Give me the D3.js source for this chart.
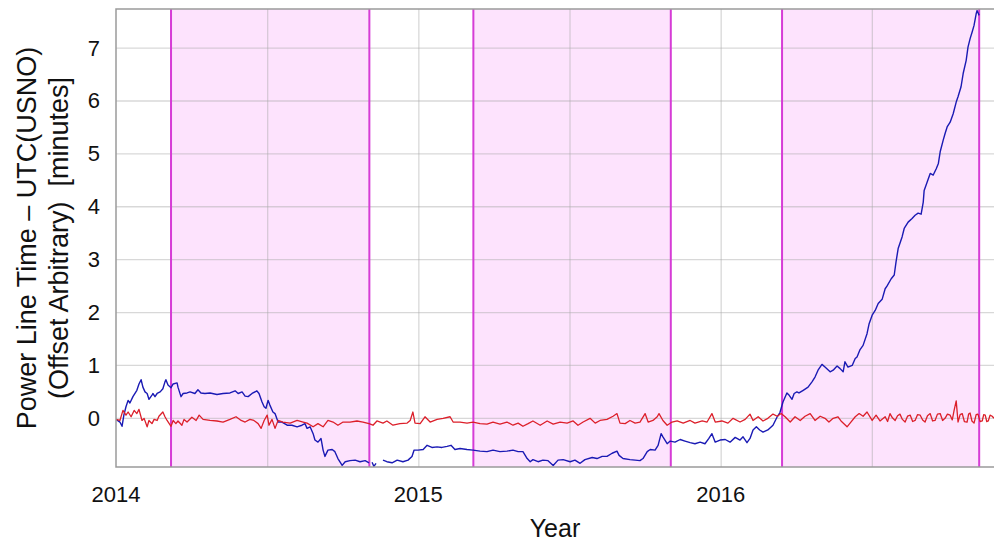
<!DOCTYPE html>
<html>
<head>
<meta charset="utf-8">
<script src="https://cdn.jsdelivr.net/npm/d3@7"></script>
<style>
  body { margin: 0; background: #fff; }
  text { font-family: "Liberation Sans", Arial, sans-serif; fill: #111; }
</style>
</head>
<body>
<div id="chart"></div>
<script>
// [decimal year, minutes]  -- null marks a gap in the record
const blueSeries = [
  [2014.000,-0.03],[2014.013,-0.08],[2014.020,-0.16],[2014.026,0.05],[2014.033,0.21],[2014.040,0.33],
  [2014.046,0.28],[2014.056,0.40],[2014.069,0.52],[2014.076,0.64],[2014.083,0.72],[2014.089,0.58],
  [2014.096,0.49],[2014.103,0.46],[2014.109,0.35],[2014.119,0.43],[2014.122,0.46],[2014.129,0.40],
  [2014.136,0.46],[2014.146,0.49],[2014.155,0.55],[2014.162,0.68],[2014.165,0.72],[2014.172,0.62],
  [2014.182,0.57],[2014.189,0.64],[2014.202,0.66],[2014.205,0.58],[2014.215,0.40],[2014.222,0.46],
  [2014.235,0.47],[2014.245,0.49],[2014.261,0.46],[2014.271,0.53],[2014.281,0.47],[2014.294,0.46],
  [2014.311,0.47],[2014.334,0.44],[2014.354,0.46],[2014.377,0.47],[2014.394,0.51],[2014.404,0.46],
  [2014.417,0.49],[2014.427,0.41],[2014.437,0.40],[2014.450,0.46],[2014.466,0.51],[2014.473,0.46],
  [2014.483,0.30],[2014.490,0.21],[2014.496,0.18],[2014.503,0.33],[2014.509,0.24],[2014.519,0.11],
  [2014.526,0.08],[2014.536,-0.08],[2014.549,-0.08],[2014.566,-0.14],[2014.582,-0.14],[2014.599,-0.17],
  [2014.615,-0.14],[2014.625,-0.11],[2014.632,-0.20],[2014.642,-0.17],[2014.652,-0.30],[2014.658,-0.42],
  [2014.668,-0.46],[2014.678,-0.39],[2014.685,-0.61],[2014.691,-0.73],[2014.701,-0.61],[2014.715,-0.60],
  [2014.724,-0.64],[2014.734,-0.77],[2014.748,-0.90],[2014.758,-0.83],[2014.774,-0.81],[2014.791,-0.80],
  [2014.807,-0.83],[2014.824,-0.81],[2014.837,-0.85],[2014.842,null],[2014.847,-0.84],[2014.853,-0.92],
  [2014.860,-0.86],[2014.870,null],[2014.883,-0.80],[2014.896,-0.83],[2014.913,-0.85],[2014.930,-0.80],
  [2014.949,-0.83],[2014.966,-0.80],[2014.979,-0.73],[2014.986,-0.61],[2014.999,-0.61],[2015.016,-0.60],
  [2015.029,-0.52],[2015.045,-0.56],[2015.062,-0.55],[2015.078,-0.56],[2015.095,-0.54],[2015.108,-0.52],
  [2015.121,-0.60],[2015.138,-0.58],[2015.161,-0.60],[2015.181,-0.61],[2015.204,-0.63],[2015.227,-0.64],
  [2015.247,-0.61],[2015.270,-0.64],[2015.293,-0.63],[2015.313,-0.61],[2015.330,-0.64],[2015.346,-0.64],
  [2015.360,-0.77],[2015.370,-0.83],[2015.379,-0.79],[2015.396,-0.83],[2015.412,-0.80],[2015.429,-0.81],
  [2015.446,-0.90],[2015.462,-0.80],[2015.479,-0.79],[2015.502,-0.83],[2015.518,-0.80],[2015.535,-0.86],
  [2015.551,-0.79],[2015.575,-0.75],[2015.591,-0.77],[2015.608,-0.73],[2015.624,-0.73],[2015.641,-0.67],
  [2015.657,-0.63],[2015.664,-0.71],[2015.677,-0.77],[2015.700,-0.79],[2015.717,-0.80],[2015.733,-0.81],
  [2015.743,-0.77],[2015.757,-0.64],[2015.767,-0.60],[2015.783,-0.61],[2015.793,-0.52],[2015.803,-0.30],
  [2015.809,-0.36],[2015.823,-0.49],[2015.833,-0.44],[2015.849,-0.46],[2015.866,-0.41],[2015.882,-0.44],
  [2015.899,-0.47],[2015.915,-0.49],[2015.932,-0.46],[2015.948,-0.49],[2015.961,-0.39],[2015.971,-0.30],
  [2015.982,-0.46],[2015.998,-0.42],[2016.015,-0.41],[2016.031,-0.46],[2016.048,-0.37],[2016.064,-0.42],
  [2016.074,-0.36],[2016.087,-0.47],[2016.097,-0.39],[2016.107,-0.23],[2016.118,-0.17],[2016.129,-0.23],
  [2016.140,-0.27],[2016.156,-0.23],[2016.173,-0.14],[2016.187,0.02],[2016.196,0.10],[2016.206,0.30],
  [2016.219,0.47],[2016.226,0.43],[2016.236,0.35],[2016.243,0.46],[2016.252,0.49],[2016.259,0.47],
  [2016.273,0.52],[2016.289,0.58],[2016.302,0.68],[2016.312,0.77],[2016.322,0.90],[2016.335,1.01],
  [2016.345,0.96],[2016.362,0.87],[2016.372,0.90],[2016.385,0.98],[2016.395,0.93],[2016.405,0.87],
  [2016.411,1.06],[2016.421,0.96],[2016.435,0.99],[2016.445,1.12],[2016.451,1.15],[2016.461,1.29],
  [2016.471,1.37],[2016.484,1.59],[2016.491,1.78],[2016.501,1.94],[2016.511,2.03],[2016.521,2.16],
  [2016.534,2.24],[2016.544,2.44],[2016.550,2.49],[2016.564,2.63],[2016.574,2.70],[2016.580,2.95],
  [2016.587,3.20],[2016.600,3.42],[2016.607,3.58],[2016.620,3.70],[2016.633,3.77],[2016.643,3.83],
  [2016.653,3.87],[2016.663,3.85],[2016.670,4.08],[2016.673,4.30],[2016.683,4.46],[2016.693,4.62],
  [2016.703,4.59],[2016.713,4.71],[2016.720,4.81],[2016.726,5.03],[2016.736,5.25],[2016.742,5.37],
  [2016.749,5.50],[2016.759,5.59],[2016.769,5.75],[2016.779,5.97],[2016.785,6.07],[2016.795,6.26],
  [2016.802,6.51],[2016.812,6.76],[2016.818,7.01],[2016.825,7.17],[2016.832,7.30],[2016.838,7.42],
  [2016.845,7.64],[2016.848,7.70],[2016.855,7.61]
];

const redSeries = [
  [2014.000,-0.03],[2014.013,-0.05],[2014.023,0.14],[2014.033,0.05],[2014.040,0.11],[2014.050,0.02],
  [2014.060,0.14],[2014.069,0.08],[2014.076,0.16],[2014.086,-0.05],[2014.093,-0.01],[2014.103,-0.17],
  [2014.109,-0.05],[2014.119,-0.11],[2014.126,-0.03],[2014.136,-0.05],[2014.142,0.03],[2014.155,0.11],
  [2014.162,0.02],[2014.169,-0.05],[2014.182,-0.16],[2014.189,-0.05],[2014.198,-0.11],[2014.205,-0.06],
  [2014.218,-0.14],[2014.225,-0.03],[2014.235,-0.08],[2014.251,0.01],[2014.265,-0.05],[2014.275,0.05],
  [2014.288,-0.03],[2014.311,-0.05],[2014.334,-0.06],[2014.354,-0.08],[2014.377,-0.03],[2014.397,0.02],
  [2014.414,-0.05],[2014.427,-0.08],[2014.443,-0.03],[2014.456,-0.05],[2014.470,-0.11],[2014.480,-0.20],
  [2014.490,-0.05],[2014.500,0.05],[2014.506,-0.14],[2014.516,-0.03],[2014.526,-0.20],[2014.536,-0.05],
  [2014.552,-0.08],[2014.576,-0.10],[2014.599,-0.05],[2014.619,-0.08],[2014.632,-0.10],[2014.652,-0.17],
  [2014.668,-0.11],[2014.685,-0.17],[2014.701,-0.05],[2014.718,-0.08],[2014.734,-0.14],[2014.751,-0.08],
  [2014.774,-0.08],[2014.797,-0.06],[2014.817,-0.08],[2014.837,-0.11],[2014.850,-0.14],[2014.863,-0.06],
  [2014.883,-0.10],[2014.896,-0.06],[2014.916,-0.14],[2014.939,-0.11],[2014.963,-0.10],[2014.973,-0.05],
  [2014.982,0.11],[2014.989,-0.10],[2015.006,-0.11],[2015.022,0.02],[2015.039,-0.08],[2015.062,-0.03],
  [2015.082,-0.01],[2015.105,0.02],[2015.115,-0.08],[2015.138,-0.08],[2015.161,-0.10],[2015.181,-0.08],
  [2015.204,-0.11],[2015.227,-0.12],[2015.247,-0.08],[2015.270,-0.12],[2015.293,-0.08],[2015.313,-0.14],
  [2015.330,-0.10],[2015.346,-0.16],[2015.363,-0.11],[2015.379,-0.06],[2015.403,-0.14],[2015.426,-0.06],
  [2015.446,-0.12],[2015.469,-0.08],[2015.492,-0.10],[2015.512,-0.06],[2015.528,-0.14],[2015.545,-0.08],
  [2015.568,-0.01],[2015.585,-0.10],[2015.601,-0.05],[2015.624,-0.03],[2015.644,0.03],[2015.657,0.08],
  [2015.667,-0.10],[2015.684,-0.11],[2015.700,-0.05],[2015.717,-0.10],[2015.733,-0.08],[2015.750,0.08],
  [2015.760,-0.08],[2015.776,-0.05],[2015.790,0.02],[2015.796,0.08],[2015.809,-0.05],[2015.823,-0.14],
  [2015.839,-0.08],[2015.856,-0.06],[2015.876,-0.10],[2015.899,-0.05],[2015.915,-0.10],[2015.939,-0.06],
  [2015.955,-0.08],[2015.971,0.08],[2015.982,-0.08],[2016.004,-0.06],[2016.024,-0.10],[2016.041,-0.01],
  [2016.064,-0.08],[2016.081,-0.03],[2016.097,0.07],[2016.107,-0.05],[2016.124,0.02],[2016.140,-0.06],
  [2016.156,-0.01],[2016.173,0.07],[2016.187,0.03],[2016.200,0.08],[2016.213,0.02],[2016.230,-0.08],
  [2016.246,0.02],[2016.263,-0.05],[2016.279,0.03],[2016.296,0.08],[2016.312,-0.05],[2016.329,0.03],
  [2016.345,-0.01],[2016.358,-0.08],[2016.372,-0.01],[2016.388,0.02],[2016.398,-0.06],[2016.418,-0.17],
  [2016.428,-0.10],[2016.445,0.02],[2016.458,0.08],[2016.471,0.03],[2016.484,0.11],[2016.501,-0.05],
  [2016.514,0.05],[2016.527,-0.06],[2016.544,0.02],[2016.552,-0.07],[2016.560,0.08],[2016.568,0.00],
  [2016.577,-0.05],[2016.585,0.04],[2016.593,0.07],[2016.601,-0.03],[2016.610,-0.08],[2016.618,0.03],
  [2016.627,0.05],[2016.635,-0.07],[2016.643,-0.05],[2016.651,0.06],[2016.660,0.05],[2016.668,-0.04],
  [2016.676,-0.08],[2016.684,0.04],[2016.693,0.08],[2016.701,-0.06],[2016.709,-0.05],[2016.717,0.07],
  [2016.726,0.08],[2016.734,-0.05],[2016.742,-0.01],[2016.750,0.07],[2016.759,0.05],[2016.766,-0.04],
  [2016.772,0.14],[2016.779,0.32],[2016.785,-0.08],[2016.792,0.06],[2016.799,0.08],[2016.806,-0.07],
  [2016.815,-0.08],[2016.820,0.07],[2016.825,0.09],[2016.831,-0.06],[2016.838,-0.10],[2016.845,0.06],
  [2016.851,0.07],[2016.858,-0.07],[2016.865,-0.06],[2016.870,0.06],[2016.875,0.05],[2016.880,-0.07],
  [2016.885,-0.06],[2016.891,0.05],[2016.898,0.03],[2016.904,-0.01]
];

// daylight saving time periods (start, end) as decimal years
const dstStarts = [2014.182, 2015.182, 2016.203];
const dstEnds   = [2014.838, 2015.835, 2016.855];

const yTicks = [0, 1, 2, 3, 4, 5, 6, 7];
const xTicks = [2014, 2015, 2016];
const xGrid  = [2014.5, 2015, 2015.5, 2016, 2016.5];

const W = 994, H = 545;
const margin = {left: 116, top: 9, right: 0, bottom: 78};
const pw = W - margin.left - margin.right;
const ph = H - margin.top - margin.bottom;

const svg = d3.select("#chart").append("svg")
    .attr("width", W).attr("height", H);

const x = d3.scaleLinear().domain([2014, 2016.904]).range([0, pw]);
const y = d3.scaleLinear().domain([-0.93, 7.73]).range([ph, 0]);

const g = svg.append("g")
    .attr("transform", "translate(" + margin.left + "," + margin.top + ")");

g.append("clipPath").attr("id", "clip")
  .append("rect").attr("width", pw).attr("height", ph);

// DST shading
g.selectAll(".dst")
  .data(dstStarts)
  .enter()
  .append("rect")
    .attr("x", function(d) { return x(d); })
    .attr("width", function(d, i) { return x(dstEnds[i]) - x(d); })
    .attr("y", 0)
    .attr("height", ph)
    .style("fill", "#fde3fd");

// grid
g.append("g")
    .call(d3.axisLeft(y).tickValues(yTicks).tickSize(-pw).tickFormat(""))
    .call(function(a) {
      a.select(".domain").remove();
      a.selectAll("line").attr("stroke", "#a8a8a8").attr("stroke-opacity", 0.45).attr("stroke-width", 1.3);
    });

g.append("g")
    .attr("transform", "translate(0," + ph + ")")
    .call(d3.axisBottom(x).tickValues(xGrid).tickSize(-ph).tickFormat(""))
    .call(function(a) {
      a.select(".domain").remove();
      a.selectAll("line").attr("stroke", "#a8a8a8").attr("stroke-opacity", 0.45).attr("stroke-width", 1.3);
    });

// DST boundary lines
g.selectAll(".dstline")
  .data(dstStarts.concat(dstEnds))
  .enter()
  .append("line")
    .attr("x1", function(d) { return x(d); })
    .attr("x2", function(d) { return x(d); })
    .attr("y1", 0).attr("y2", ph)
    .attr("stroke", "#d63cd6")
    .attr("stroke-width", 2);

const line = d3.line()
    .defined(function(d) { return d[1] !== null; })
    .x(function(d) { return x(d[0]); })
    .y(function(d) { return y(d[1]); });

const plot = g.append("g").attr("clip-path", "url(#clip)");

plot.append("path")
    .datum(blueSeries)
    .attr("d", line)
    .attr("fill", "none")
    .attr("stroke", "#1a1ab4")
    .attr("stroke-width", 1.4)
    .attr("stroke-linejoin", "round");

plot.append("path")
    .datum(redSeries)
    .attr("d", line)
    .attr("fill", "none")
    .attr("stroke", "#dc1f2a")
    .attr("stroke-width", 1.3)
    .attr("stroke-linejoin", "round");

// frame (top, left, bottom)
g.append("path")
    .attr("d", "M" + pw + ",0H0V" + ph + "H" + pw)
    .attr("fill", "none")
    .attr("stroke", "#9a9a9a")
    .attr("stroke-width", 1.5);

// tick labels
g.selectAll(".ylab")
  .data(yTicks)
  .enter()
  .append("text")
    .attr("x", -16)
    .attr("y", function(d) { return y(d); })
    .attr("dy", "0.36em")
    .attr("text-anchor", "end")
    .style("font-size", "22px")
    .text(function(d) { return d; });

g.selectAll(".xlab")
  .data(xTicks)
  .enter()
  .append("text")
    .attr("x", function(d) { return x(d); })
    .attr("y", 502 - margin.top)
    .attr("text-anchor", "middle")
    .style("font-size", "22px")
    .text(function(d) { return d; });

// axis titles
svg.append("text")
    .attr("x", margin.left + pw / 2)
    .attr("y", 537)
    .attr("text-anchor", "middle")
    .style("font-size", "25px")
    .text("Year");

const yt = svg.append("text")
    .attr("transform", "translate(36,238) rotate(-90)")
    .attr("text-anchor", "middle")
    .style("font-size", "27px")
    .style("white-space", "pre");
yt.append("tspan").attr("x", 0).attr("y", 0).text("Power Line Time \u2013 UTC(USNO)");
yt.append("tspan").attr("x", 0).attr("y", 32).text("(Offset Arbitrary)  [minutes]");
</script>
</body>
</html>
